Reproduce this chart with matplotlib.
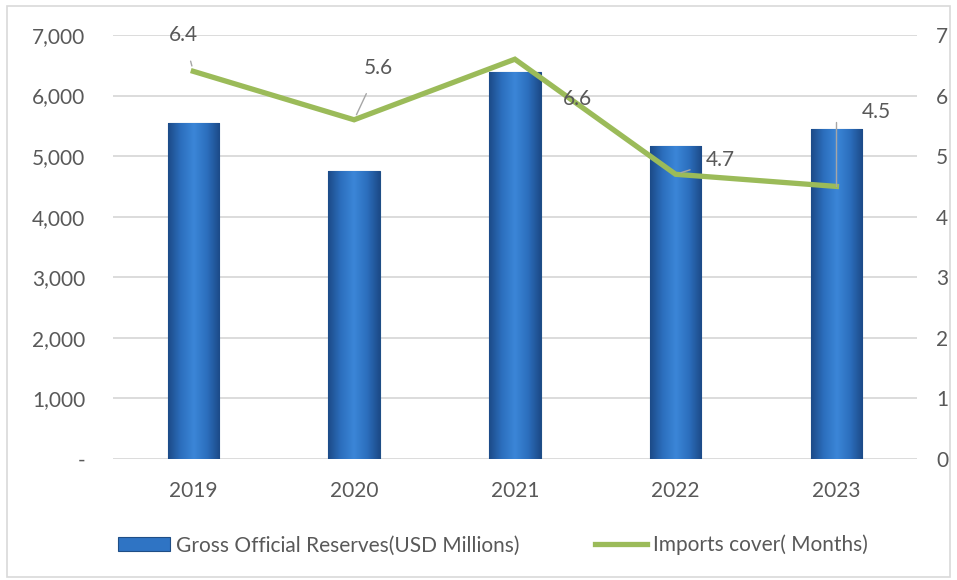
import matplotlib
matplotlib.use("Agg")
import matplotlib.pyplot as plt
import numpy as np
from matplotlib.colors import LinearSegmentedColormap
from matplotlib.patches import Rectangle
from matplotlib.ticker import FuncFormatter, MultipleLocator

years = ["2019", "2020", "2021", "2022", "2023"]
reserves = [5550, 4750, 6390, 5170, 5450]
import_cover = [6.4, 5.6, 6.6, 4.7, 4.5]
bar_label = "Gross Official Reserves(USD Millions)"
line_label = "Imports cover( Months)"

plt.rcParams["font.family"] = ["Lato", "DejaVu Sans"]
text_color = "#595959"
fs = 15

fig = plt.figure(figsize=(9.57, 5.8), dpi=100)
fig.patches.append(Rectangle((7 / 957, 3 / 580), 943 / 957, 571 / 580,
                             transform=fig.transFigure, fill=False,
                             edgecolor="#D9D9D9", lw=1.2))

ax = fig.add_axes([0.118, 0.2086, 0.840, 0.7311])
ax2 = ax.twinx()

x = np.arange(len(years))
bars = ax.bar(x, reserves, width=0.32, color="#2F74C4", edgecolor="#1F4E86",
              lw=0.8, zorder=2, label=bar_label)

# shaded fill inside each bar for a cylindrical look
shade = LinearSegmentedColormap.from_list(
    "shade", ["#1C4A87", "#2C6FBE", "#3B86D8", "#2C6FBE", "#1C4A87"])
grad = np.linspace(0, 1, 256).reshape(1, -1)
for p in bars.patches:
    x0, y0 = p.get_x(), p.get_y()
    w, h = p.get_width(), p.get_height()
    im = ax.imshow(grad, cmap=shade, extent=(x0, x0 + w, y0, y0 + h),
                   aspect="auto", zorder=2.5, interpolation="bicubic")
    im.set_clip_path(p)

ax.set_xlim(-0.5, len(years) - 0.5)
ax.set_ylim(0, 7000)
ax.yaxis.set_major_locator(MultipleLocator(1000))
ax.yaxis.set_major_formatter(FuncFormatter(lambda v, _: "-" if v == 0 else f"{v:,.0f}"))
ax.set_xticks(x)
ax.set_xticklabels(years)
ax.grid(axis="y", color="#D9D9D9", lw=1.3, zorder=0)
ax.set_axisbelow(True)
for s in ax.spines.values():
    s.set_visible(False)
ax.tick_params(axis="y", length=0, pad=20, labelsize=fs, labelcolor=text_color)
ax.tick_params(axis="x", length=0, pad=16, labelsize=fs, labelcolor=text_color)

ax2.plot(x, import_cover, color="#9BBB59", lw=3.8, solid_joinstyle="miter",
         zorder=3, label=line_label)
ax2.set_ylim(0, 7)
ax2.yaxis.set_major_locator(MultipleLocator(1))
for s in ax2.spines.values():
    s.set_visible(False)
ax2.tick_params(axis="y", length=0, pad=14, labelsize=fs, labelcolor=text_color)

# data labels with leader lines
label_pos = [(-0.06, 7.0), (1.15, 6.45), (2.39, 5.94), (3.28, 4.93), (4.25, 5.73)]
leader = dict(arrowstyle="-", color="#A6A6A6", lw=1.0, shrinkA=10, shrinkB=4)
for i, (v, (tx, ty)) in enumerate(zip(import_cover, label_pos)):
    props = leader if i != 2 else None
    if i == 4:
        props = dict(arrowstyle="-", color="#A6A6A6", lw=1.0,
                     connectionstyle="angle,angleA=0,angleB=90,rad=0",
                     shrinkA=18, shrinkB=0)
    ax2.annotate(f"{v:.1f}", xy=(x[i], v), xytext=(tx, ty), ha="center",
                 va="center", fontsize=fs, color=text_color,
                 arrowprops=props, zorder=4)

h1, l1 = ax.get_legend_handles_labels()
h2, l2 = ax2.get_legend_handles_labels()
fig.legend(h1 + h2, l1 + l2, loc="center", bbox_to_anchor=(0.515, 0.06), ncol=2,
           frameon=False, fontsize=fs, labelcolor=text_color, columnspacing=3.6,
           handlelength=2.5, handletextpad=0.3)

fig.savefig("out.png", dpi=100)
